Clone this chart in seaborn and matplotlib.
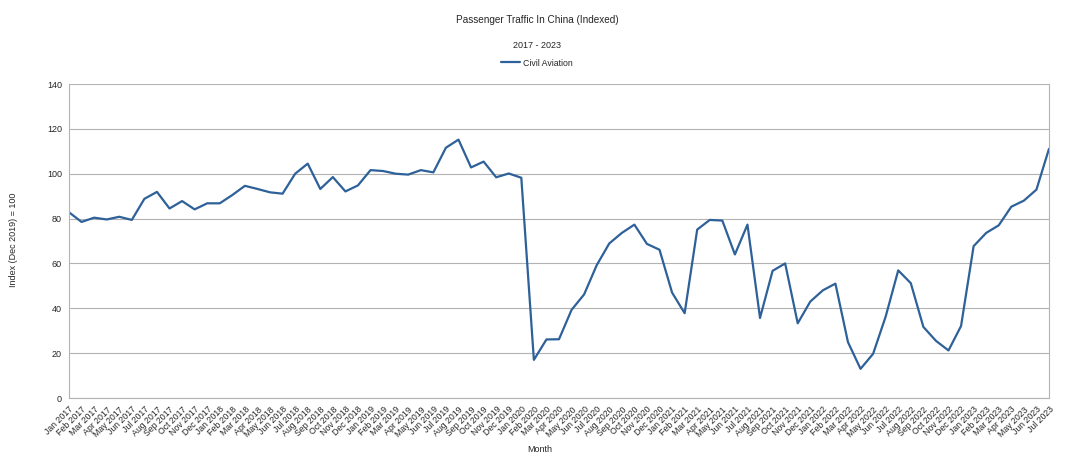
import matplotlib
matplotlib.use("Agg")
import matplotlib.pyplot as plt
import seaborn as sns
import pandas as pd

months = ["Jan", "Feb", "Mar", "Apr", "May", "Jun", "Jul", "Aug", "Sep", "Oct", "Nov", "Dec"]
years = [2017, 2018, 2019, 2020, 2021, 2022, 2023]
labels = [f"{m} {y}" for y in years for m in months][:79]

civil_aviation = [
    82.8, 78.5, 80.4, 79.6, 80.8, 79.4, 88.8, 91.9, 84.5, 87.8, 84.1, 86.8,
    86.8, 90.5, 94.6, 93.2, 91.7, 91.1, 100.0, 104.5, 93.2, 98.5, 92.1, 94.8,
    101.6, 101.2, 100.0, 99.6, 101.6, 100.6, 111.6, 115.2, 102.8, 105.4, 98.4, 100.1,
    98.2, 17.0, 26.1, 26.2, 39.3, 46.2, 59.2, 68.9, 73.6, 77.3, 68.7, 66.1,
    47.0, 37.8, 75.1, 79.4, 79.1, 64.0, 77.3, 35.7, 56.7, 60.0, 33.3, 43.0,
    48.0, 51.0, 24.9, 13.0, 19.7, 36.3, 56.9, 51.2, 31.7, 25.5, 21.2, 32.1,
    67.7, 73.6, 77.0, 85.3, 88.0, 92.9, 111.1,
]

df = pd.DataFrame({"idx": range(len(labels)), "Month": labels, "Civil Aviation": civil_aviation})

sns.set_style("white")
plt.rcParams["font.family"] = ["Liberation Sans", "DejaVu Sans"]

fig = plt.figure(figsize=(10.74, 4.66), dpi=100)
ax = fig.add_axes([69/1074, 1 - 398/466, (1049-69)/1074, (398-84)/466])

line_color = "#2e6199"
sns.lineplot(data=df, x="idx", y="Civil Aviation", ax=ax, color=line_color,
             linewidth=1.6, label="Civil Aviation", legend=False)

ax.set_xlim(0, len(labels) - 1)
ax.set_ylim(0, 140)
ax.set_yticks(range(0, 141, 20))
ax.set_xticks(range(len(labels)))
ax.set_xticklabels(labels, rotation=45, ha="right", va="top", rotation_mode="anchor", fontsize=6.3)
ax.tick_params(axis="y", labelsize=6.5, length=3, color="#b3b3b3", width=0.8, pad=2)
ax.tick_params(axis="x", length=3, color="#b3b3b3", width=0.8, pad=2)
ax.grid(axis="y", color="#b3b3b3", linewidth=0.8)
ax.set_axisbelow(True)
for s in ax.spines.values():
    s.set_color("#b3b3b3")
    s.set_linewidth(0.8)
ax.spines["top"].set_visible(False)

ax.set_xlabel("")
ax.set_ylabel("")
fig.text(540/1074, 1 - 450/466, "Month", ha="center", va="center", fontsize=6.5)
fig.text(14/1074, 1 - 240/466, "Index (Dec 2019) = 100", ha="center", va="center",
         rotation=90, fontsize=6.5)

fig.text(0.5, 1 - 20/466, "Passenger Traffic In China (Indexed)", ha="center", va="center", fontsize=7.2)
fig.text(0.5, 1 - 46/466, "2017 - 2023", ha="center", va="center", fontsize=6.5)

handles, lbls = ax.get_legend_handles_labels()
fig.legend(handles, lbls, loc="center", bbox_to_anchor=(0.5, 1 - 63/466), frameon=False,
           fontsize=6.3, handlelength=2.2, handletextpad=0.3, borderpad=0)

fig.savefig("out.png", dpi=100)
